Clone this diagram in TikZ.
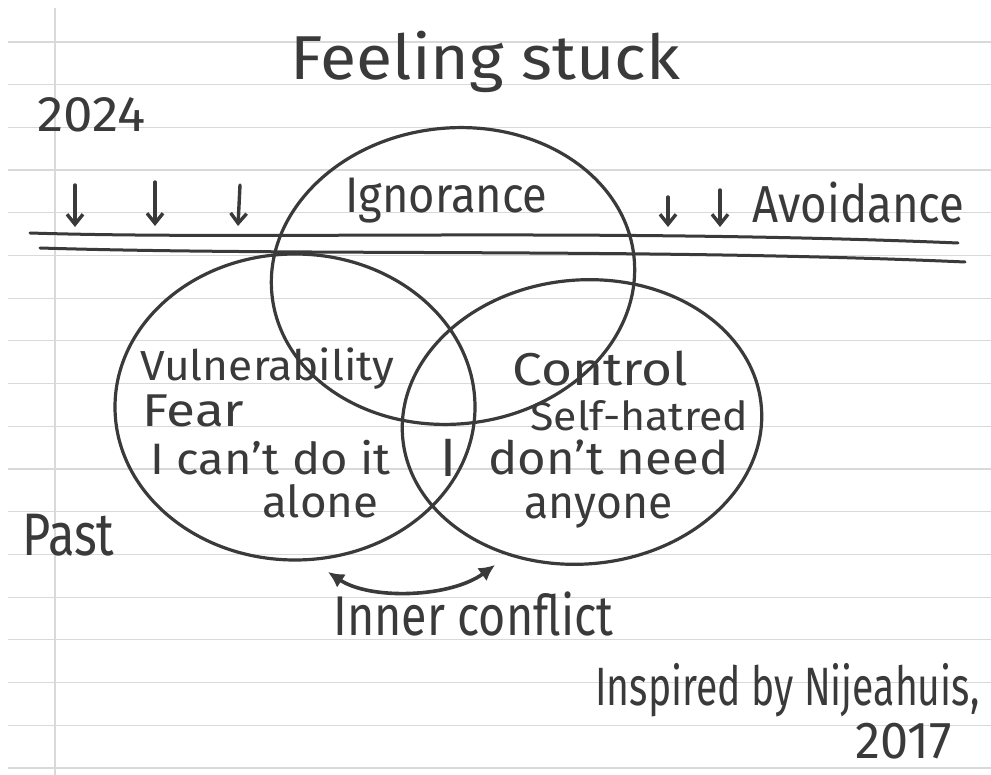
\documentclass[tikz,border=0pt]{standalone}
\usepackage{fontspec}
\setmainfont{Fira Sans}
\usetikzlibrary{arrows.meta,shapes.geometric}
\definecolor{ink}{HTML}{3A3A3A}
\definecolor{paperrule}{HTML}{D9D9D9}
\newcommand\fitw[2]{\resizebox{#1}{\height}{#2}}
\newcommand\fs[1]{\fontsize{#1}{#1}\selectfont}
\begin{document}
\begin{tikzpicture}[x=0.5pt,y=-0.5pt,
  inkline/.style={draw=ink,line width=1.5pt,line cap=round,line join=round},
  venn/.style={ellipse,draw=ink,line width=1.6pt,inner sep=0pt},
  hw/.style={text=ink,inner sep=0pt,anchor=base west},
  downarrow/.style={inkline,line width=1.7pt,-{Straight Barb[length=5pt,width=8pt]}},
  bothtips/.style={draw=ink,line width=1.8pt,{Latex[length=8pt,width=8pt]}-{Latex[length=8pt,width=8pt]}}]
\useasboundingbox (0,0) rectangle (991,775);
\fill[white] (0,0) rectangle (991,775);
% paper rules
\foreach \i in {0,...,17} \draw[paperrule,line width=0.6pt] (8,{42+42.7*\i}) -- (991,{42+42.7*\i});
\draw[paperrule,line width=0.6pt] (55,8) -- (55,775);

% title and labels
\node[hw,font=\fs{31}] (title) at (290,80) {\fitw{195pt}{Feeling stuck}};
\node[hw,font=\fs{25}] (year) at (37,132) {\fitw{54pt}{2024}};
\node[hw,font=\fs{25}] (ignor) at (345,213) {\fitw{101pt}{Ignorance}};
\node[hw,font=\fs{26}] (avoid) at (752,223) {\fitw{106pt}{Avoidance}};

% double line
\coordinate (l1a) at (30,233);
\coordinate (l1b) at (958,243);
\coordinate (l2a) at (40,248);
\coordinate (l2b) at (965,262);
\draw[inkline] (l1a) .. controls (250,240) and (600,228) .. (l1b);
\draw[inkline] (l2a) .. controls (300,256) and (650,248) .. (l2b);

% down arrows
\coordinate (a1s) at (75,185); \coordinate (a1e) at (75,227);
\coordinate (a2s) at (155,182); \coordinate (a2e) at (155,226);
\coordinate (a3s) at (240,185); \coordinate (a3e) at (238,226);
\coordinate (a4s) at (668,197); \coordinate (a4e) at (668,227);
\coordinate (a5s) at (720,190); \coordinate (a5e) at (720,227);
\foreach \k in {1,...,5} \draw[downarrow] (a\k s) -- (a\k e);

% venn ellipses
\node[venn,minimum width=182pt,minimum height=148pt,rotate=6] (ignorance) at (453,276) {};
\node[venn,minimum width=180pt,minimum height=153pt] (vulner) at (295,407) {};
\node[venn,minimum width=180pt,minimum height=142pt,rotate=5] (control) at (582,422) {};

% left texts
\node[hw,font=\fs{21}] (t1) at (140,380) {\fitw{127pt}{Vulnerability}};
\node[hw,font=\fs{23}] (t2) at (142,427) {\fitw{51pt}{Fear}};
\node[hw,font=\fs{22}] (t3) at (150,474) {\fitw{120pt}{I can't do it}};
\node[hw,font=\fs{22}] (t4) at (262,517) {\fitw{58pt}{alone}};
\node[hw,font=\fs{27}] (t5) at (440,476) {I};
% right texts
\node[hw,font=\fs{23}] (t6) at (512,386) {\fitw{88pt}{Control}};
\node[hw,font=\fs{20}] (t7) at (530,430) {\fitw{109pt}{Self-hatred}};
\node[hw,font=\fs{23}] (t8) at (488,474) {\fitw{120pt}{don't need}};
\node[hw,font=\fs{23}] (t9) at (524,518) {\fitw{74pt}{anyone}};

\node[hw,font=\fs{30}] (past) at (22,555) {\fitw{46pt}{Past}};

% inner conflict arrow
\coordinate (ic1) at (328,572);
\coordinate (ic2) at (495,565);
\draw[bothtips] (ic1) .. controls (370,600) and (450,598) .. (ic2);
\node[hw,font=\fs{28}] (inner) at (333,635) {\fitw{140pt}{Inner conflict}};

\node[hw,font=\fs{27}] (insp) at (595,705) {\fitw{192pt}{Inspired by Nijeahuis,}};
\node[hw,font=\fs{26}] (y2017) at (855,758) {\fitw{48pt}{2017}};
\end{tikzpicture}
\end{document}
